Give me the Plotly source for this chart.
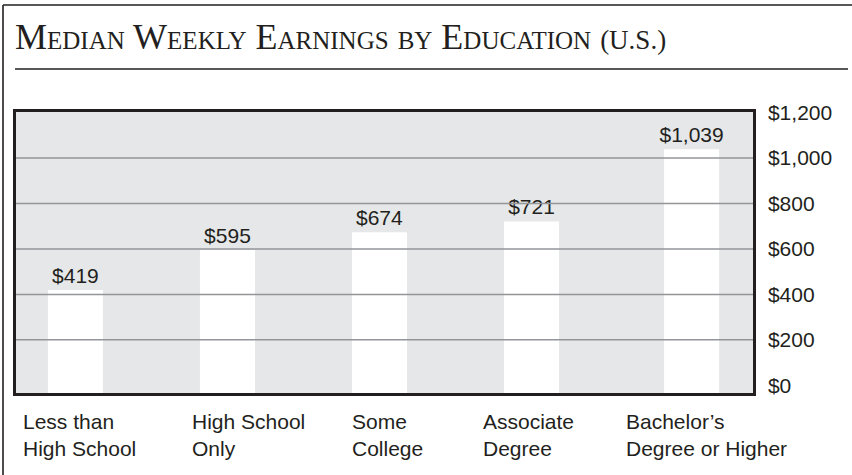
import plotly.graph_objects as go

# ---- data ----
CATEGORIES = ["Less than<br>High School", "High School<br>Only", "Some<br>College",
              "Associate<br>Degree", "Bachelor’s<br>Degree or Higher"]
EARNINGS = [419, 595, 674, 721, 1039]
VALUE_LABELS = ["$419", "$595", "$674", "$721", "$1,039"]
TICK_VALUES = [0, 200, 400, 600, 800, 1000, 1200]
TICK_LABELS = ["$0", "$200", "$400", "$600", "$800", "$1,000", "$1,200"]
GRID_VALUES = [200, 400, 600, 800, 1000]
TITLE = "Median Weekly Earnings by Education"
TITLE_SUFFIX = "(U.S.)"

# ---- layout constants (pixels) ----
W, H = 852, 475
ML, MR, MT, MB = 16, 99, 112, 82
PW, PH = W - ML - MR, H - MT - MB
Y_MIN, Y_MAX = -34, 1203
X_MIN, X_MAX = -0.391, 4.457
BAR_W = 0.362
BAR_SHIFT = [0, 0, 0, 0, 0.053]
LABEL_XSHIFT = [-54, -37, -29, -51, -60]

INK = "#231f20"
SANS = "Liberation Sans, Arial, sans-serif"
SERIF = "Liberation Serif, Times New Roman, serif"


def px_x(p):
    return (p - ML) / PW


def px_y(p):
    return (H - MB - p) / PH


xs = list(range(len(CATEGORIES)))

fig = go.Figure()
fig.add_trace(go.Bar(
    x=xs,
    y=[v - Y_MIN for v in EARNINGS],
    base=[Y_MIN] * len(EARNINGS),
    width=BAR_W,
    offset=[-BAR_W / 2 + s for s in BAR_SHIFT],
    marker=dict(color="#ffffff", line=dict(width=0)),
    text=VALUE_LABELS,
    textposition="outside",
    constraintext="none",
    textfont=dict(family=SANS, size=21, color=INK),
    cliponaxis=False,
    hoverinfo="skip",
))

shapes = []
# gridlines drawn above the bars
for g in GRID_VALUES:
    shapes.append(dict(type="line", xref="paper", yref="y", x0=0, x1=1, y0=g, y1=g,
                       line=dict(color="#939598", width=1.5), layer="above"))
# outer frame (top and left) and title rule
shapes.append(dict(type="line", xref="paper", yref="paper",
                   x0=px_x(3), x1=px_x(853), y0=px_y(5), y1=px_y(5),
                   line=dict(color=INK, width=1.6)))
shapes.append(dict(type="line", xref="paper", yref="paper",
                   x0=px_x(3), x1=px_x(3), y0=px_y(5), y1=px_y(476),
                   line=dict(color=INK, width=1.6)))
shapes.append(dict(type="line", xref="paper", yref="paper",
                   x0=px_x(15), x1=px_x(848), y0=px_y(69), y1=px_y(69),
                   line=dict(color=INK, width=1.5)))

annotations = [dict(
    xref="paper", yref="paper", x=px_x(13), y=px_y(59), xanchor="left", yanchor="bottom",
    text=f"{TITLE} <span style='font-size:27px'>{TITLE_SUFFIX}</span>",
    showarrow=False, font=dict(family=SERIF, size=36, color=INK, variant="small-caps"),
)]
for i, lab in enumerate(CATEGORIES):
    annotations.append(dict(
        xref="x", yref="paper", x=xs[i], y=px_y(408), xanchor="left", yanchor="top",
        xshift=LABEL_XSHIFT[i], text=lab, align="left", showarrow=False,
        font=dict(family=SANS, size=21, color=INK),
    ))

fig.update_layout(
    width=W, height=H,
    margin=dict(l=ML, r=MR, t=MT, b=MB, pad=0),
    paper_bgcolor="#ffffff",
    plot_bgcolor="#e6e7e8",
    showlegend=False,
    shapes=shapes,
    annotations=annotations,
    xaxis=dict(range=[X_MIN, X_MAX], showgrid=False, zeroline=False, showticklabels=False,
               showline=True, mirror=True, linecolor=INK, linewidth=2.5, fixedrange=True),
    yaxis=dict(range=[Y_MIN, Y_MAX], side="right", tickvals=TICK_VALUES, ticktext=TICK_LABELS,
               showgrid=False, zeroline=False, showline=True, mirror=True,
               linecolor=INK, linewidth=2.5, ticks="", ticklabelstandoff=8,
               tickfont=dict(family=SANS, size=21, color=INK), fixedrange=True),
)

fig.write_html("out.html", config={"displayModeBar": False},
               post_script="document.body.style.margin='0';")
